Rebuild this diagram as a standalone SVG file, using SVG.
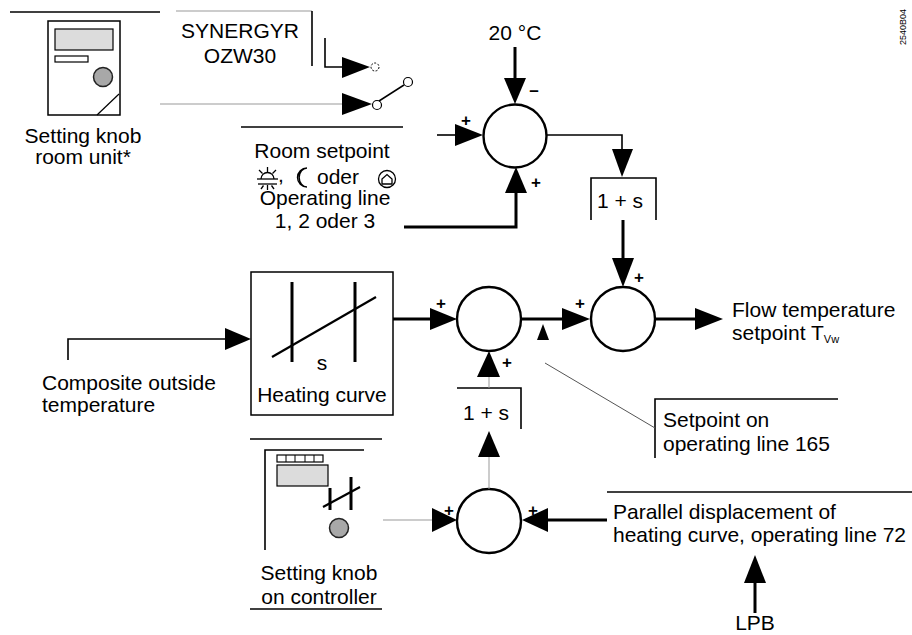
<svg xmlns="http://www.w3.org/2000/svg" width="912" height="635" viewBox="0 0 912 635">
<defs>
<style>
text{font-family:"Liberation Sans",Arial,sans-serif;font-size:21px;fill:#000}
.m{text-anchor:middle}
.pm{font-size:17px;font-weight:bold;text-anchor:middle}
.code{font-size:9px}
.sub{font-size:11px}
.thk{stroke:#000;stroke-width:3;fill:none}
.med{stroke:#000;stroke-width:1.6;fill:none}
.thn{stroke:#999;stroke-width:1;fill:none}
.ah{fill:#000;stroke:none}
.sj{fill:#fff;stroke:#000;stroke-width:2.4}
</style>
</defs>
<rect width="912" height="635" fill="#fff"/>

<g id="room-unit">
<line x1="10" y1="12" x2="160" y2="12" class="med"/>
<rect x="48" y="21" width="72" height="94" fill="#fff" stroke="#000" stroke-width="1.5"/>
<rect x="55" y="29" width="58" height="21" fill="#dcdcdc" stroke="#000" stroke-width="1.2"/>
<rect x="55" y="56" width="33" height="6" fill="#fff" stroke="#000" stroke-width="1.2"/>
<circle cx="103" cy="77" r="9.5" fill="#a8a8a8" stroke="#222" stroke-width="1.5"/>
<line x1="97" y1="115" x2="119" y2="94" stroke="#000" stroke-width="1.2"/>
<text x="83" y="143" class="m">Setting knob</text>
<text x="83" y="164" class="m">room unit*</text>
</g>

<g id="synergyr">
<line x1="176" y1="11" x2="312" y2="11" class="thn"/>
<line x1="312" y1="11" x2="312" y2="66" class="med"/>
<text x="240" y="38" class="m">SYNERGYR</text>
<text x="240" y="63" class="m">OZW30</text>
<circle cx="375" cy="67" r="4" fill="#fff" stroke="#000" stroke-width="1" stroke-dasharray="2,1.5"/>
<circle cx="377" cy="105" r="4.5" fill="#fff" stroke="#000" stroke-width="1.2"/>
<line x1="379" y1="101" x2="404" y2="85" stroke="#000" stroke-width="1.5"/>
<circle cx="408" cy="82" r="4.5" fill="#fff" stroke="#000" stroke-width="1.2"/>
</g>

<g id="room-setpoint">
<line x1="241" y1="127" x2="403" y2="127" class="med"/>
<text x="322" y="158" class="m">Room setpoint</text>
<g stroke="#000" stroke-width="1.3" fill="none">
<path d="M261,179 A6.5,6.5 0 0,1 274,179"/>
<line x1="257" y1="179" x2="278" y2="179"/>
<line x1="258" y1="184" x2="277" y2="184"/>
<line x1="267.5" y1="167" x2="267.5" y2="172"/>
<line x1="259" y1="170" x2="262.5" y2="173.5"/>
<line x1="276" y1="170" x2="272.5" y2="173.5"/>
<line x1="261" y1="189" x2="263.5" y2="185.5"/>
<line x1="274" y1="189" x2="271.5" y2="185.5"/>
<line x1="267.5" y1="185" x2="267.5" y2="190"/>
<path d="M307,168 A9.5,9.5 0 1,0 307,187 A7,8.5 0 1,1 307,168 Z" stroke-width="1.4"/>
<circle cx="387" cy="179" r="8.5"/>
<path d="M382,184 L382,179 L387,174.5 L392,179 L392,184 Z"/>
</g>
<text x="278" y="182">,</text>
<text x="317" y="184">oder</text>
<text x="325" y="205" class="m">Operating line</text>
<text x="325" y="228" class="m">1, 2 oder 3</text>
</g>

<g id="sum-room">
<text x="515" y="40" class="m">20 °C</text>
<circle cx="515" cy="136" r="31.5" class="sj"/>
<text x="466" y="126" class="pm">+</text>
<text x="534" y="96" class="pm">–</text>
<text x="536" y="188" class="pm">+</text>
</g>

<g id="block-1s-upper">
<path d="M591,220 V178 H656 V220" class="med"/>
<text x="620" y="208" class="m">1 + s</text>
</g>

<g id="heating-curve">
<rect x="251" y="272" width="142" height="143" fill="#fff" stroke="#000" stroke-width="1.5"/>
<line x1="292" y1="282" x2="292" y2="362" class="thk"/>
<line x1="355" y1="282" x2="355" y2="362" class="thk"/>
<line x1="272" y1="357" x2="376" y2="297" stroke="#000" stroke-width="2.2"/>
<text x="322" y="370" class="m">s</text>
<text x="322" y="402" class="m">Heating curve</text>
<line x1="250" y1="439" x2="382" y2="439" class="med"/>
</g>

<g id="composite">
<text x="42" y="390">Composite outside</text>
<text x="42" y="412">temperature</text>
</g>

<g id="sum-main">
<circle cx="489" cy="319" r="32" class="sj"/>
<text x="441" y="309" class="pm">+</text>
<text x="507" y="368" class="pm">+</text>
</g>

<g id="sum-flow">
<circle cx="623" cy="319" r="32" class="sj"/>
<text x="580" y="309" class="pm">+</text>
<text x="639" y="283" class="pm">+</text>
</g>

<g id="flow-temp">
<text x="732" y="317">Flow temperature</text>
<text x="732" y="340">setpoint T<tspan class="sub" dy="3">Vw</tspan></text>
</g>

<g id="setpoint-165">
<path d="M655,458 V399 H838" class="med"/>
<text x="663" y="427">Setpoint on</text>
<text x="663" y="451">operating line 165</text>
</g>

<g id="block-1s-lower">
<path d="M457,388 H521 V429" class="med"/>
<text x="486" y="420" class="m">1 + s</text>
</g>

<g id="controller">
<path d="M265,550 V450 H364" class="med"/>
<rect x="277" y="455" width="46" height="7" fill="#fff" stroke="#000" stroke-width="1.2"/>
<g stroke="#000" stroke-width="1">
<line x1="286" y1="455" x2="286" y2="462"/>
<line x1="295" y1="455" x2="295" y2="462"/>
<line x1="305" y1="455" x2="305" y2="462"/>
<line x1="314" y1="455" x2="314" y2="462"/>
</g>
<rect x="277" y="465" width="51" height="21" fill="#dcdcdc" stroke="#000" stroke-width="1.2"/>
<line x1="330" y1="488" x2="330" y2="510" class="thk"/>
<line x1="351" y1="477" x2="351" y2="510" class="thk"/>
<line x1="323" y1="507" x2="360" y2="487" stroke="#000" stroke-width="2.2"/>
<circle cx="339" cy="528" r="9.5" fill="#a8a8a8" stroke="#222" stroke-width="1.5"/>
<text x="319" y="580" class="m">Setting knob</text>
<text x="319" y="604" class="m">on controller</text>
<line x1="250" y1="609" x2="382" y2="609" class="med"/>
</g>

<g id="sum-displacement">
<circle cx="489" cy="521" r="32" class="sj"/>
<text x="449" y="516" class="pm">+</text>
<text x="533" y="516" class="pm">+</text>
</g>

<g id="parallel">
<line x1="607" y1="492" x2="912" y2="492" class="med"/>
<text x="613" y="519">Parallel displacement of</text>
<text x="613" y="542">heating curve, operating line 72</text>
</g>

<g id="lpb">
<text x="755" y="630" class="m">LPB</text>
</g>

<g id="code">
<text x="0" y="0" class="code" transform="translate(906,45) rotate(-90)">2540B04</text>
</g>

<g id="connectors">
<line x1="160" y1="104" x2="343" y2="104" class="thn"/>
<polygon points="342,93 372,104 342,115" class="ah"/>
<path d="M325,38 V67 H343" class="med"/>
<polygon points="342,57 370,67 342,78" class="ah"/>
<line x1="515" y1="47" x2="515" y2="79" class="thk"/>
<polygon points="504,78 526,78 515,104" class="ah"/>
<line x1="437" y1="135" x2="456" y2="135" class="med"/>
<polygon points="455,124 483,135 455,146" class="ah"/>
<path d="M404,227 H516 V191" class="thk"/>
<polygon points="505,193 527,193 516,167" class="ah"/>
<path d="M547,135 H622 V150" class="med"/>
<polygon points="612,149 633,149 622,177" class="ah"/>
<line x1="623" y1="220" x2="623" y2="259" class="thk"/>
<polygon points="612,258 634,258 623,287" class="ah"/>
<path d="M68,360 V339 H226" class="med"/>
<polygon points="225,328 251,339 225,350" class="ah"/>
<line x1="393" y1="319" x2="431" y2="319" class="thk"/>
<polygon points="430,308 457,319 430,330" class="ah"/>
<line x1="521" y1="319" x2="563" y2="319" class="thk"/>
<polygon points="562,308 590,319 562,330" class="ah"/>
<polygon points="537,340 549,340 543,324" class="ah"/>
<line x1="655" y1="319" x2="696" y2="319" class="thk"/>
<polygon points="695,308 723,319 695,330" class="ah"/>
<line x1="545" y1="363" x2="655" y2="428" stroke="#555" stroke-width="1"/>
<line x1="489" y1="377" x2="489" y2="388" class="thn"/>
<polygon points="477,377 500,377 489,351" class="ah"/>
<line x1="489" y1="456" x2="489" y2="489" class="thn"/>
<polygon points="478,457 500,457 489,431" class="ah"/>
<line x1="383" y1="520" x2="433" y2="520" class="thn"/>
<polygon points="432,508 457,520 432,532" class="ah"/>
<line x1="547" y1="520" x2="607" y2="520" class="thk"/>
<polygon points="548,508 522,520 548,532" class="ah"/>
<line x1="755" y1="582" x2="755" y2="613" class="thk"/>
<polygon points="744,583 766,583 755,555" class="ah"/>
</g>
</svg>
